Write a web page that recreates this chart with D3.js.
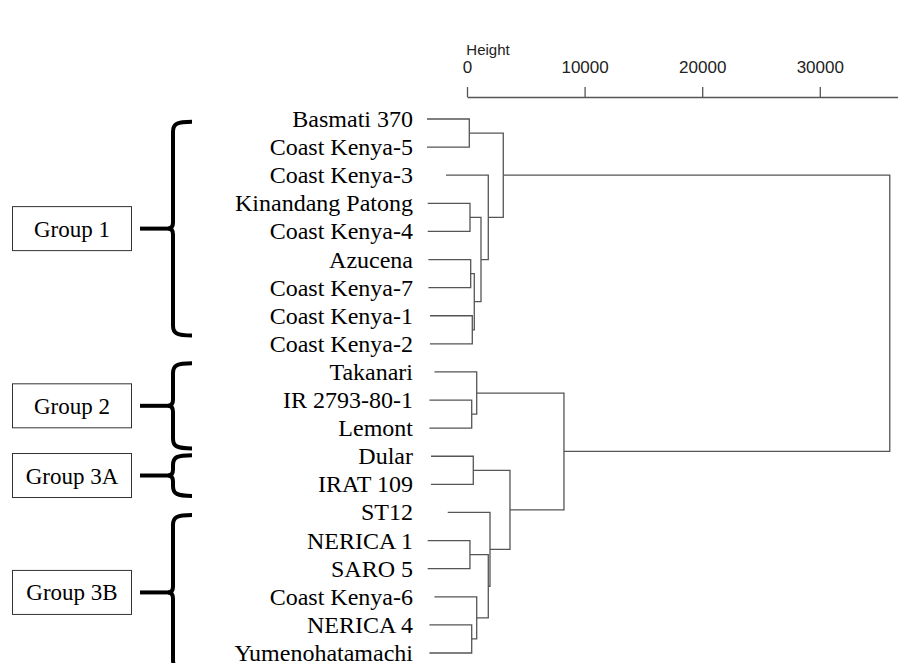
<!DOCTYPE html>
<html><head><meta charset="utf-8">
<script src="https://cdn.jsdelivr.net/npm/d3@7"></script>
<style>body{margin:0;background:#fff}svg{display:block}</style>
</head><body>
<svg id="chart" width="898" height="663"></svg>
<script>
// ---- data ----
const leaves = ["Basmati 370","Coast Kenya-5","Coast Kenya-3","Kinandang Patong","Coast Kenya-4",
  "Azucena","Coast Kenya-7","Coast Kenya-1","Coast Kenya-2","Takanari","IR 2793-80-1","Lemont",
  "Dular","IRAT 109","ST12","NERICA 1","SARO 5","Coast Kenya-6","NERICA 4","Yumenohatamachi"];
// R-style merge matrix: negative = leaf (1-based), positive = earlier merge (1-based)
const merges = [[-1,-2],[-4,-5],[-16,-17],[-6,-7],[-11,-12],[-19,-20],[-8,-9],[-13,-14],
  [4,7],[-10,5],[-18,6],[2,9],[-3,12],[3,11],[-15,14],[1,13],[8,15],[10,17],[16,18]];
const heights = [195,255,250,314,400,400,450,535,620,825,825,1190,1810,1810,1955,3085,3655,8245,35950];
const tickValues = [0,10000,20000,30000];
const groups = [
  {name:"Group 1", from:0.1, to:7.7},
  {name:"Group 2", from:8.69, to:11.72},
  {name:"Group 3A", from:11.96, to:13.41},
  {name:"Group 3B", from:14.09, to:19.6}
];

// ---- build hierarchy ----
const nodes = [];
function ref(v){ return v < 0 ? {name: leaves[-v-1], height: 0, leaf: true, idx: -v-1} : nodes[v-1]; }
merges.forEach((m,i)=>{ nodes.push({name:"m"+(i+1), height: heights[i], children:[ref(m[0]), ref(m[1])]}); });
const root = d3.hierarchy(nodes[nodes.length-1]);

const svg = d3.select("#chart");
const x = d3.scaleLinear().domain([0, 36650]).range([467, 898]);
const y = d3.scalePoint().domain(d3.range(leaves.length)).range([119, 653]);
const hang = 0.1 * d3.max(heights);

root.eachAfter(n=>{
  if(!n.children) n.py = y(n.data.idx);
  else n.py = (n.children[0].py + n.children[1].py)/2;
});

// ---- dendrogram ----
const g = svg.append("g").attr("stroke","#555").attr("stroke-width",1.3).attr("fill","none");
root.each(n=>{
  if(!n.children) return;
  const xh = x(n.data.height);
  const pts = n.children.map(c => [c.children ? x(c.data.height) : x(n.data.height - hang), c.py]);
  g.append("path").attr("d", d3.line()([pts[0], [xh, pts[0][1]], [xh, pts[1][1]], pts[1]]));
});

// ---- axis ----
const ax = svg.append("g").attr("transform","translate(0,97)")
  .call(d3.axisTop(x).tickValues(tickValues).tickSize(10).tickSizeOuter(0).tickPadding(14).tickFormat(d3.format("d")));
ax.select(".domain").attr("stroke","#555").attr("stroke-width",1.3);
ax.selectAll(".tick line").attr("stroke","#555").attr("stroke-width",1.3);
ax.selectAll(".tick text").attr("fill","#222").style("font-family","'Liberation Sans',Arial,sans-serif").style("font-size","17px");
svg.append("text").attr("x",488).attr("y",55).attr("text-anchor","middle")
  .style("font-family","'Liberation Sans',Arial,sans-serif").style("font-size","15px").attr("fill","#222").text("Height");

// ---- leaf labels ----
svg.append("g").selectAll("text").data(leaves).join("text")
  .attr("x",413).attr("y",(d,i)=>y(i)+8).attr("text-anchor","end")
  .style("font-family","'Liberation Serif','Times New Roman',serif").style("font-size","24px")
  .attr("fill","#000").text(d=>d);

// ---- group braces ----
const leafUnit = (y(1)-y(0));
const gy = v => y(0) + v*leafUnit;
const x0 = 173, xe = 192, stubL = 140;
const gg = svg.append("g");
groups.forEach(gr=>{
  const t = gy(gr.from), b = gy(gr.to), m = (t+b)/2;
  gg.append("path").attr("fill","none").attr("stroke","#000").attr("stroke-width",4)
    .attr("d",`M${xe},${t} C${x0+4},${t} ${x0},${t+2} ${x0},${t+10} L${x0},${m-6} Q${x0},${m} ${x0-5},${m} Q${x0},${m} ${x0},${m+6} L${x0},${b-10} C${x0},${b-2} ${x0+4},${b} ${xe},${b}`);
  gg.append("line").attr("x1",stubL).attr("x2",x0-3).attr("y1",m).attr("y2",m).attr("stroke","#000").attr("stroke-width",4);
  gg.append("rect").attr("x",12.5).attr("y",m-22).attr("width",119).attr("height",44)
    .attr("fill","#fff").attr("stroke","#333").attr("stroke-width",1);
  gg.append("text").attr("x",72).attr("y",m+8).attr("text-anchor","middle")
    .style("font-family","'Liberation Serif','Times New Roman',serif").style("font-size","23px")
    .attr("fill","#000").text(gr.name);
});
</script>
</body></html>
